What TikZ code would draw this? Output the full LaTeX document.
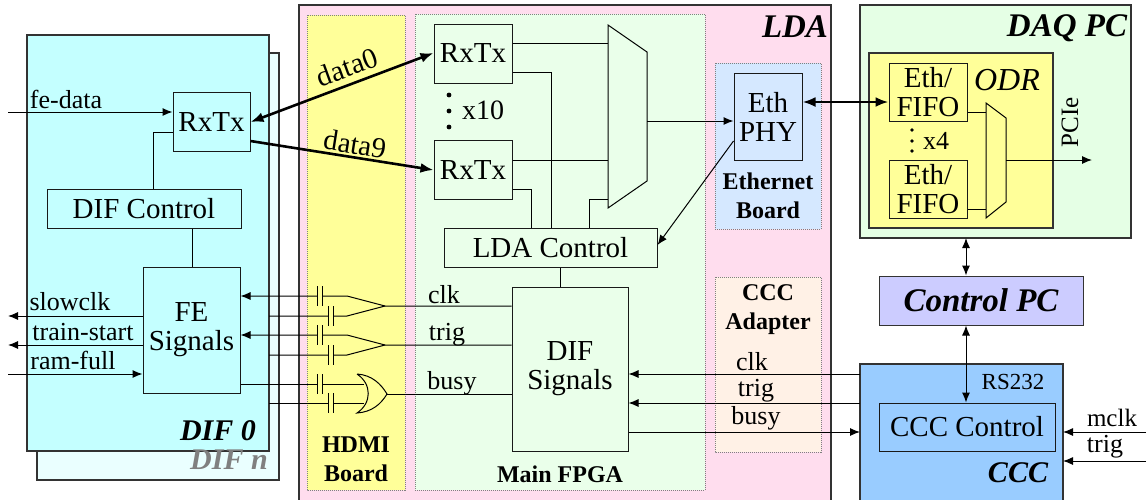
\documentclass[tikz,border=0pt]{standalone}
\usepackage{fontspec}
\setmainfont{Liberation Serif}
\usetikzlibrary{arrows.meta}
\definecolor{difcol}{HTML}{C4FFFF}
\definecolor{difncol}{HTML}{EAFFFF}
\definecolor{ldacol}{HTML}{FFDDEE}
\definecolor{hdmicol}{HTML}{FFFF99}
\definecolor{fpgacol}{HTML}{EAFFEA}
\definecolor{ethcol}{HTML}{D5E8FF}
\definecolor{adaptcol}{HTML}{FFF1E6}
\definecolor{daqcol}{HTML}{E5FFE5}
\definecolor{pccol}{HTML}{CCCCFF}
\definecolor{ccccol}{HTML}{99CCFF}
\tikzset{
  >={Latex[length=10pt,width=8pt]},
  sig/.style={line width=1pt},
  thickline/.style={line width=2.6pt,>={Latex[length=13pt,width=10pt]}},
  frame/.style={draw=black!80,line width=1.1pt},
  board/.style={draw=black!50,line width=1pt,densely dotted},
  blockbox/.style={draw=black!90,line width=1pt,inner sep=0pt,align=center,font=\fontsize{29}{29}\selectfont},
  lbl/.style={inner sep=0pt,font=\fontsize{26}{28}\selectfont},
  boardlbl/.style={inner sep=0pt,align=center,font=\fontsize{24}{29}\selectfont\bfseries},
  titlelbl/.style={inner sep=0pt,font=\fontsize{30}{32}\selectfont\bfseries\itshape},
  bigtitle/.style={titlelbl,font=\fontsize{33}{35}\selectfont\bfseries\itshape},
}
\begin{document}
\begin{tikzpicture}[x=1pt,y=-1pt]
\useasboundingbox (0,0) rectangle (1148,499);
\clip (0,0) rectangle (1148,499);
% big boxes
\draw[frame,fill=difncol] (37,53) rectangle (279,480);
\draw[frame,fill=difcol] (27,35) rectangle (269,451);
\draw[frame,fill=ldacol] (299,5) rectangle (831,520);
\draw[board,fill=hdmicol] (307,15) rectangle (405,490);
\draw[board,fill=fpgacol] (415,14) rectangle (705,490);
\draw[board,fill=ethcol] (715,63) rectangle (821,229);
\draw[board,fill=adaptcol] (715,277) rectangle (821,452);
\draw[frame,fill=daqcol] (860,5) rectangle (1131,238);
\draw[frame,fill=hdmicol] (869,53) rectangle (1053,228);
\draw[frame,fill=ccccol] (860,364) rectangle (1063,520);
% DIF blocks
\node[blockbox,minimum width=77,minimum height=59] (rxdif) at (211.5,121.5) {RxTx};
\node[blockbox,minimum width=194,minimum height=39] (difctl) at (144,208.5) {DIF Control};
\node[blockbox,minimum width=97,minimum height=126] (fesig) at (191.5,330) {FE\\Signals};
% LDA blocks
\node[blockbox,minimum width=78,minimum height=59] (rxa) at (473,53.5) {RxTx};
\node[blockbox,minimum width=78,minimum height=59] (rxb) at (473,170) {RxTx};
\node[blockbox,minimum width=213,minimum height=39] (ldactl) at (550.5,247.5) {LDA Control};
\node[blockbox,minimum width=116,minimum height=164] (difsig) at (570,369) {DIF\\Signals};
\node[blockbox,minimum width=68,minimum height=87] (ethphy) at (768,116.5) {Eth\\PHY};
% PC blocks
\node[blockbox,minimum width=78,minimum height=58] (fifoa) at (928,92) {Eth/\\FIFO};
\node[blockbox,minimum width=78,minimum height=58] (fifob) at (928,189) {Eth/\\FIFO};
\node[blockbox,draw=black!80,fill=pccol,minimum width=204,minimum height=49,font=\fontsize{33}{35}\selectfont\bfseries\itshape] (ctlpc) at (981,300.5) {Control PC};
\node[blockbox,fill=ccccol,minimum width=176,minimum height=48] (cccctl) at (967,427) {CCC Control};
% multiplexers
\coordinate (muxa) at (608,25);
\coordinate (muxb) at (608,208);
\coordinate (muxo) at (647,121);
\draw[sig,fill=fpgacol] (muxa) -- (647,52) -- (647,181) -- (muxb) -- cycle;
\coordinate (odra) at (986,103);
\coordinate (odrb) at (986,218);
\coordinate (odro) at (1006,160);
\draw[sig,fill=hdmicol] (odra) -- (1006,118) -- (1006,202) -- (odrb) -- cycle;
% free ends
\coordinate (fein) at (8,112);
\coordinate (slowend) at (8,316);
\coordinate (trainend) at (8,345);
\coordinate (ramend) at (8,374);
\coordinate (pcieend) at (1092,160);
\coordinate (mclkend) at (1146,432);
\coordinate (trigend) at (1146,461);
\coordinate (cccedge) at (860,403);
% DIF wiring
\draw[sig,->] (fein) -- (rxdif.west |- fein);
\draw[sig,->] (fesig.west |- slowend) -- (slowend);
\draw[sig,->] (fesig.west |- trainend) -- (trainend);
\draw[sig,->] (ramend) -- (fesig.west |- ramend);
\draw[sig] (rxdif.west |- 0,132) -- (153,132) -- (153,189);
\draw[sig] (difctl.south -| 192,0) -- (fesig.north -| 192,0);
% data links
\draw[thickline,<->] (rxdif.east |- 0,122) -- (rxa.west |- 0,53);
\draw[thickline,->] (rxdif.east |- 0,141) -- (rxb.west |- 0,170);
\node[lbl,rotate=20,font=\fontsize{29}{32}\selectfont] (dataa) at (347,67) {data0};
\node[lbl,rotate=-9,font=\fontsize{29}{32}\selectfont] (datab) at (355,144) {data9};
% RxTx to mux and control
\draw[sig] (rxa.east |- 0,43) -- (muxa |- 0,43);
\draw[sig] (rxb.east |- 0,160) -- (muxa |- 0,160);
\draw[sig] (rxa.east |- 0,72) -- (551,72) -- (ldactl.north -| 551,0);
\draw[sig] (rxb.east |- 0,189) -- (531,189) -- (ldactl.north -| 531,0);
\draw[sig] (muxa |- 0,199) -- (589,199) -- (ldactl.north -| 589,0);
\draw[sig,->] (muxo) -- (ethphy.west |- muxo);
\draw[sig,->] (ethphy.west |- 0,141) -- (ldactl.east |- 0,245);
\draw[sig] (ldactl.south -| 560,0) -- (difsig.north -| 560,0);
\foreach \y in {95,111,127} % dots between the RxTx blocks
\fill (449,\y) circle (2.4pt);
\node[lbl,font=\fontsize{28}{30}\selectfont] (xten) at (483,110) {x10};
% HDMI gates
\draw[sig,<-] (fesig.east |- 0,296) -- (347,296) -- (385,306) -- (difsig.west |- 0,306);
\draw[sig] (269,316) -- (347,316) -- (385,306);
\draw[sig,<-] (fesig.east |- 0,335) -- (347,335) -- (385,345) -- (difsig.west |- 0,345);
\draw[sig] (269,355) -- (347,355) -- (385,345);
\draw[sig] (fesig.east |- 0,384) -- (364,384);
\draw[sig] (269,403) -- (364,403);
\draw[sig] (357,374) .. controls (372,375) and (381,384) .. (387,394) .. controls (381,404) and (372,412) .. (357,413) .. controls (372,403) and (372,384) .. (357,374);
\draw[sig] (387,394) -- (difsig.west |- 0,394);
\foreach \x/\y in {317/296,328/316,317/335,328/355,317/384,328/403} % capacitors
{
\fill[shift={(\x,\y)},hdmicol] (0,-3) rectangle (5,3);
\draw[shift={(\x,\y)},sig] (0,-10) -- (0,10) (5,-10) -- (5,10);
}
% CCC wiring
\draw[sig,->] (cccedge |- 0,374) -- (difsig.east |- 0,374);
\draw[sig,->] (cccedge |- 0,403) -- (difsig.east |- 0,403);
\draw[sig,->] (difsig.east |- 0,432) -- (cccedge |- 0,432);
\draw[sig,->] (mclkend) -- (1063,432);
\draw[sig,->] (trigend) -- (1063,461);
\draw[sig,<->] (ctlpc.south -| 966,0) -- (cccctl.north -| 966,0);
\draw[sig,<->] (966,238) -- (ctlpc.north -| 966,0);
% DAQ wiring
\draw[thickline,<->] (ethphy.east |- 0,102) -- (fifoa.west |- 0,102);
\draw[sig] (fifoa.east |- 0,112) -- (odra |- 0,112);
\draw[sig] (fifob.east |- 0,209) -- (odra |- 0,209);
\draw[sig,->] (odro) -- (pcieend);
\foreach \y in {130,141,151} % dots between the fifos
\fill (912,\y) circle (1.8pt);
\node[lbl] (xfour) at (936,141) {x4};
% labels
\node[lbl] (felbl) at (66,99) {fe-data};
\node[lbl] (slowlbl) at (70,302) {slowclk};
\node[lbl] (trainlbl) at (83,332) {train-start};
\node[lbl] (ramlbl) at (73,360) {ram-full};
\node[lbl] (hclk) at (444,295) {clk};
\node[lbl] (htrig) at (447,335) {trig};
\node[lbl] (hbusy) at (452,383) {busy};
\node[lbl] (cclk) at (752,362) {clk};
\node[lbl] (ctrig) at (756,391) {trig};
\node[lbl] (cbusy) at (756,418) {busy};
\node[lbl,font=\fontsize{25}{28}\selectfont] (mclklbl) at (1112,418) {mclk};
\node[lbl] (triglbl) at (1105,447) {trig};
\node[lbl,font=\fontsize{23}{26}\selectfont] (rslbl) at (1013,382) {RS232};
\node[lbl,rotate=90,font=\fontsize{25}{28}\selectfont] (pcielbl) at (1070,122) {PCIe};
\node[lbl,font=\fontsize{32}{34}\selectfont\itshape] (odrlbl) at (1007,80) {ODR};
\node[boardlbl] (hdmilbl) at (356,459) {HDMI\\Board};
\node[boardlbl] (fpgalbl) at (560,474) {Main FPGA};
\node[boardlbl] (ethlbl) at (768,196) {Ethernet\\Board};
\node[boardlbl] (adaptlbl) at (768,310) {CCC\\Adapter};
\node[titlelbl] (dif0) at (218,431) {DIF 0};
\node[titlelbl,text=black!50] (difn) at (229,460) {DIF n};
\node[bigtitle] (ldalbl) at (795,27) {LDA};
\node[bigtitle] (daqlbl) at (1067,28) {DAQ PC};
\node[titlelbl] (ccclbl) at (1018,473) {CCC};
\end{tikzpicture}
\end{document}
